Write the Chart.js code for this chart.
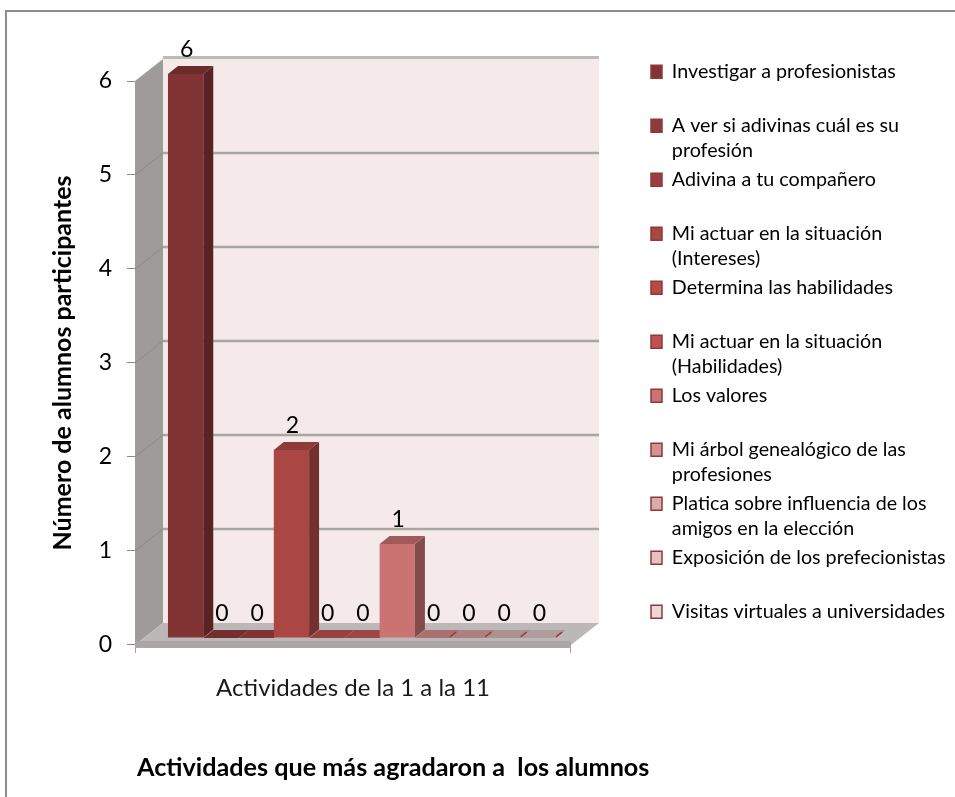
<!DOCTYPE html>
<html lang="es">
<head>
<meta charset="utf-8">
<title>Actividades que más agradaron a los alumnos</title>
<script src="https://cdn.jsdelivr.net/npm/chart.js@4/dist/chart.umd.js"></script>
<style>
  html, body { margin: 0; padding: 0; background: #fff; }
  canvas { display: block; }
</style>
</head>
<body>
<canvas id="chart" width="955" height="797"></canvas>
<script>
// one line per row of the legend, short names get a blank second row
const activities = [
  ['Investigar a profesionistas', ''],
  ['A ver si adivinas cuál es su', 'profesión'],
  ['Adivina a tu compañero', ''],
  ['Mi actuar en la situación', '(Intereses)'],
  ['Determina las habilidades', ''],
  ['Mi actuar en la situación', '(Habilidades)'],
  ['Los valores', ''],
  ['Mi árbol genealógico de las', 'profesiones'],
  ['Platica sobre influencia de los', 'amigos en la elección'],
  ['Exposición de los prefecionistas', ''],
  ['Visitas virtuales a universidades', '']
];
const participants = [6, 0, 0, 2, 0, 0, 1, 0, 0, 0, 0];
const fills = ['#823434', '#8c3a3a', '#9a3f3f', '#aa4644', '#b84a4a', '#c05252',
  '#c97372', '#d49191', '#dcabab', '#e5c1c1', '#edd6d6'];
const sideFills = ['#5a2323', '#622727', '#6a2a2a', '#72302e', '#7e3434', '#843c3c',
  '#834b4b', '#8c5c5c', '#96706f', '#a08888', '#a89a9a'];
const topFills = ['#6b2b2b', '#732f2f', '#7f3333', '#8e3b3a', '#974040', '#9e4646',
  '#a05a5a', '#a97070', '#ab8080', '#ad9090', '#b09c9c'];
const edgeColor = '#8e3a38';
const yTicks = [0, 1, 2, 3, 4, 5, 6];
const yTitle = 'Número de alumnos participantes';
const xTitle = 'Actividades de la 1 a la 11';
const chartTitle = 'Actividades que más agradaron a  los alumnos';

const FONT = 'Lato, Carlito, Calibri, sans-serif';
const WALL = { dx: 28, dy: -22 };   // back wall offset from the front axes
const BAR_SHIFT = { dx: 9, dy: -7 }; // bars stand a bit behind the front axes
const BAR_DEPTH = { dx: 10, dy: -8 };

const box3d = {
  id: 'box3d',
  beforeDraw(chart) {
    const { ctx } = chart;
    ctx.save();
    ctx.strokeStyle = '#8c8c8c';
    ctx.lineWidth = 2;
    ctx.beginPath();
    ctx.moveTo(6, 797);
    ctx.lineTo(6, 11);
    ctx.lineTo(955, 11);
    ctx.stroke();
    ctx.restore();
  },
  beforeDatasetsDraw(chart) {
    const { ctx, chartArea: a } = chart;
    const y = chart.scales.y;
    const y0 = y.getPixelForValue(0);
    const y6 = y.getPixelForValue(6);
    const wl = a.left + WALL.dx, wr = a.right + WALL.dx;
    ctx.save();
    // back wall
    ctx.fillStyle = '#f5e9e9';
    ctx.fillRect(wl, y6 + WALL.dy, wr - wl, y0 - y6);
    ctx.fillStyle = '#bdbaba';
    ctx.fillRect(wl, y6 + WALL.dy - 3, wr - wl, 3);
    // left wall
    ctx.fillStyle = '#9f9b9b';
    ctx.beginPath();
    ctx.moveTo(a.left, y6);
    ctx.lineTo(wl, y6 + WALL.dy);
    ctx.lineTo(wl, y0 + WALL.dy);
    ctx.lineTo(a.left, y0);
    ctx.closePath();
    ctx.fill();
    // floor
    ctx.fillStyle = '#bdb8b8';
    ctx.beginPath();
    ctx.moveTo(a.left, y0);
    ctx.lineTo(wl, y0 + WALL.dy);
    ctx.lineTo(wr, y0 + WALL.dy);
    ctx.lineTo(a.right, y0);
    ctx.closePath();
    ctx.fill();
    ctx.fillStyle = '#aaa6a6';
    ctx.fillRect(a.left, y0 - 4, a.right - a.left, 7);
    // grid lines
    yTicks.slice(1, -1).forEach(v => {
      const py = y.getPixelForValue(v);
      ctx.strokeStyle = '#a9a7a2';
      ctx.lineWidth = 2.5;
      ctx.beginPath();
      ctx.moveTo(wl, py + WALL.dy);
      ctx.lineTo(wr, py + WALL.dy);
      ctx.stroke();
      ctx.strokeStyle = '#8d8989';
      ctx.lineWidth = 1;
      ctx.beginPath();
      ctx.moveTo(a.left, py);
      ctx.lineTo(wl, py + WALL.dy);
      ctx.stroke();
    });
    ctx.restore();
    // bars are moved back from here until afterDatasetsDraw
    ctx.save();
    ctx.translate(BAR_SHIFT.dx, BAR_SHIFT.dy);
    chart.data.datasets.forEach((ds, i) => {
      const bar = chart.getDatasetMeta(i).data[0];
      const l = bar.x - bar.width / 2, r = bar.x + bar.width / 2;
      const t = bar.y, b = bar.base;
      const { dx, dy } = BAR_DEPTH;
      ctx.fillStyle = sideFills[i];
      ctx.beginPath();
      ctx.moveTo(r, t);
      ctx.lineTo(r + dx, t + dy);
      ctx.lineTo(r + dx, b + dy);
      ctx.lineTo(r, b);
      ctx.closePath();
      ctx.fill();
      ctx.fillStyle = topFills[i];
      ctx.beginPath();
      ctx.moveTo(l, t);
      ctx.lineTo(l + dx, t + dy);
      ctx.lineTo(r + dx, t + dy);
      ctx.lineTo(r, t);
      ctx.closePath();
      ctx.fill();
      // the pale empty bars only show as a small dark edge on the floor
      if (i > 6) {
        ctx.strokeStyle = edgeColor;
        ctx.lineWidth = 1.5;
        ctx.beginPath();
        ctx.moveTo(r, t - 1);
        ctx.lineTo(r + dx * 0.6, t + dy * 0.6 - 1);
        ctx.stroke();
      }
    });
  },
  afterDatasetsDraw(chart) {
    const { ctx } = chart;
    ctx.restore();
    // value labels above each bar
    ctx.save();
    ctx.font = '23px ' + FONT;
    ctx.fillStyle = '#000';
    ctx.textAlign = 'center';
    ctx.textBaseline = 'middle';
    chart.data.datasets.forEach((ds, i) => {
      const bar = chart.getDatasetMeta(i).data[0];
      ctx.fillText(String(ds.data[0]), bar.x + BAR_SHIFT.dx + 1, bar.y + BAR_SHIFT.dy - 24);
    });
    ctx.restore();
  },
  afterLayout(chart) {
    // legend sits higher and further left than the layout puts it
    const legend = chart.legend;
    legend.left = 647;
    legend.right = 955;
    legend.top = 58;
    legend.bottom = 790;
    // title is wider than the plot, give it room so it is not squeezed
    chart.titleBlock.left = 137;
    chart.titleBlock.right = 760;
  }
};

new Chart(document.getElementById('chart'), {
  type: 'bar',
  data: {
    labels: [''],
    datasets: participants.map((v, i) => ({
      label: activities[i].join(' ').trim(),
      data: [v],
      backgroundColor: fills[i],
      borderWidth: 0,
      categoryPercentage: 0.89,
      barPercentage: 1
    }))
  },
  options: {
    responsive: false,
    animation: false,
    layout: { padding: { left: 48, top: 81, right: 209.67, bottom: 0 } },
    plugins: {
      tooltip: { enabled: false },
      title: {
        display: true,
        text: chartTitle,
        position: 'bottom',
        align: 'start',
        fullSize: false,
        color: '#000',
        font: { family: FONT, size: 25.2, weight: 'bold', lineHeight: 1.2 },
        padding: { top: 50, bottom: 14 }
      },
      legend: {
        position: 'right',
        align: 'start',
        labels: {
          boxWidth: 11,
          boxHeight: 13,
          padding: 4,
          color: '#1a1a1a',
          font: { family: FONT, size: 19.7, lineHeight: 25 / 19.7 },
          generateLabels: () => activities.map((lines, i) => ({
            text: lines,
            fillStyle: fills[i],
            strokeStyle: edgeColor,
            lineWidth: 1.5,
            datasetIndex: i
          }))
        }
      }
    },
    scales: {
      x: {
        ticks: { display: false },
        grid: { drawOnChartArea: false, tickLength: 8, color: '#a0a0a0' },
        border: { color: '#a0a0a0' },
        title: {
          display: true,
          text: xTitle,
          color: '#1a1a1a',
          font: { family: FONT, size: 24, lineHeight: 1.2 },
          padding: { top: 21, bottom: 0 }
        }
      },
      y: {
        min: 0,
        max: 6,
        afterFit(axis) { axis.width = 87; },
        ticks: {
          stepSize: 1,
          padding: 15,
          color: '#000',
          font: { family: FONT, size: 23 }
        },
        grid: { drawOnChartArea: false, tickLength: 8, color: '#8c8c8c' },
        border: { color: '#8c8c8c' },
        title: {
          display: true,
          text: yTitle,
          color: '#000',
          font: { family: FONT, size: 25, weight: 'bold', lineHeight: 1.2 },
          padding: { top: 0, bottom: 0 }
        }
      }
    }
  },
  plugins: [box3d]
});
</script>
</body>
</html>
